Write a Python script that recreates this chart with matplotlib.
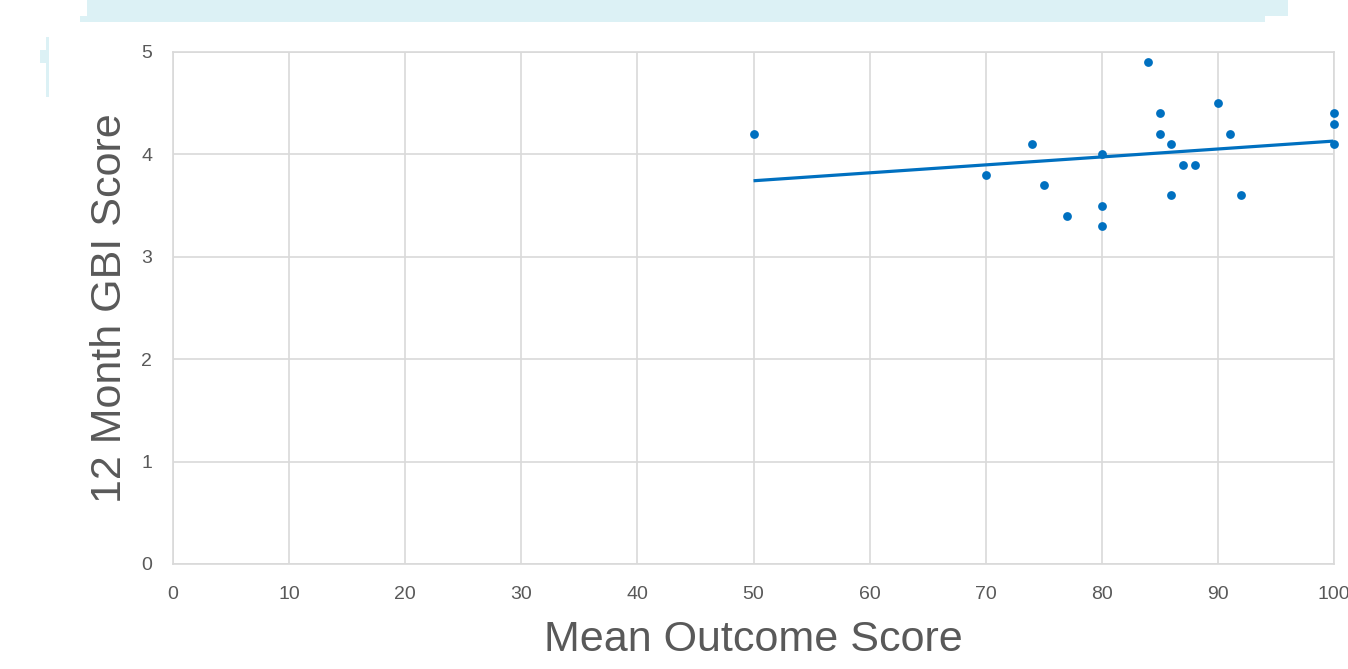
import matplotlib.pyplot as plt
from matplotlib.patches import Rectangle
import numpy as np

plt.rcParams['font.family'] = ['Liberation Sans', 'DejaVu Sans']

mean_outcome = [50, 70, 74, 75, 77, 80, 80, 80, 84, 85, 85, 86, 86, 87, 88, 90, 91, 92, 100, 100, 100]
gbi_12m = [4.2, 3.8, 4.1, 3.7, 3.4, 4.0, 3.5, 3.3, 4.9, 4.4, 4.2, 4.1, 3.6, 3.9, 3.9, 4.5, 4.2, 3.6, 4.4, 4.3, 4.1]

x_ticks = list(range(0, 101, 10))
y_ticks = list(range(0, 6))

W, H = 1348, 669
fig = plt.figure(figsize=(W / 100, H / 100), dpi=100)
ax = fig.add_axes([173 / W, (H - 564) / H, (1334 - 173) / W, (564 - 52) / H])

blue = '#0070C0'
grid = '#d9d9d9'
txt = '#595959'

ax.scatter(mean_outcome, gbi_12m, s=40, color=blue, zorder=3, clip_on=False, linewidths=0)

# linear trendline
k, b = np.polyfit(mean_outcome, gbi_12m, 1)
xs = np.array([min(mean_outcome), max(mean_outcome)])
ax.plot(xs, k * xs + b, color=blue, lw=2.3, zorder=2, solid_capstyle='butt')

ax.set_xlim(0, 100)
ax.set_ylim(0, 5)
ax.set_xticks(x_ticks)
ax.set_yticks(y_ticks)
ax.grid(True, color=grid, lw=1.2)
ax.set_axisbelow(True)
for s in ax.spines.values():
    s.set_color(grid)
    s.set_linewidth(1.2)
ax.tick_params(length=0, labelsize=14, colors=txt)
ax.tick_params(axis='x', pad=16)
ax.tick_params(axis='y', pad=15)
ax.set_xlabel('Mean Outcome Score', fontsize=31, color=txt, labelpad=12)
ax.set_ylabel('12 Month GBI Score', fontsize=31, color=txt, labelpad=8)

# light cyan bands at the top left from the original slide
cyan = '#dcf1f5'
for x0, y0, x1, y1 in [(87, 0, 1288, 16), (80, 16, 1265, 22), (46, 37, 49, 97), (40, 50, 46, 63)]:
    fig.patches.append(Rectangle((x0 / W, 1 - y1 / H), (x1 - x0) / W, (y1 - y0) / H,
                                 transform=fig.transFigure, color=cyan, lw=0, zorder=0))

fig.savefig('out.png', dpi=100)
